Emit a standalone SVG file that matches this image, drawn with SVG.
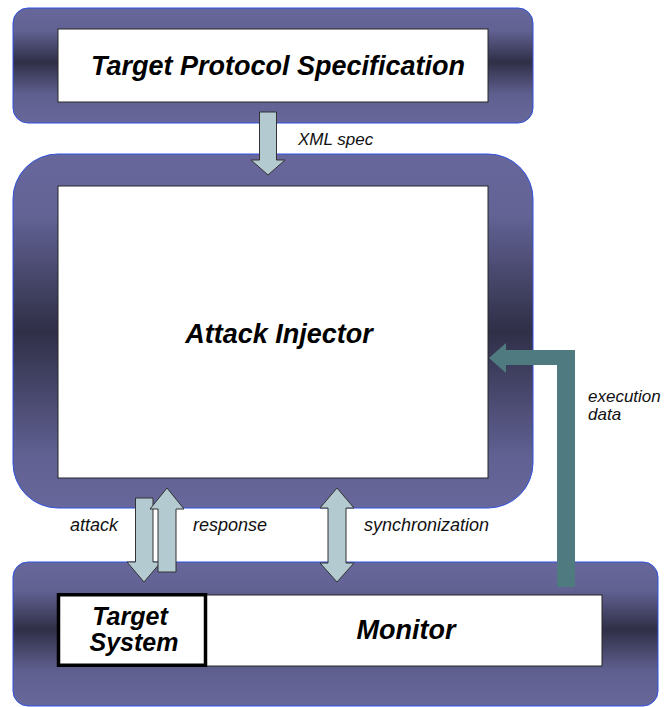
<svg xmlns="http://www.w3.org/2000/svg" width="668" height="707" viewBox="0 0 668 707">
<style>
.frame{stroke:#2f52e0;stroke-width:1}
.inner{fill:#ffffff;stroke:#262626;stroke-width:1}
.big{font-family:"Liberation Sans",Arial,sans-serif;font-weight:bold;font-style:italic;font-size:27px;fill:#000;text-anchor:middle}
.lbl{font-family:"Liberation Sans",Arial,sans-serif;font-style:italic;font-size:18px;fill:#111}
.arr{fill:#b3cbd0;stroke:#333;stroke-width:1;stroke-linejoin:miter}
</style>
<defs>
<linearGradient id="gTop" x1="0" y1="0" x2="0" y2="1">
<stop offset="0" stop-color="#67679b"/>
<stop offset="0.2" stop-color="#616192"/>
<stop offset="0.47" stop-color="#2f2f47"/>
<stop offset="0.75" stop-color="#5f5f8f"/>
<stop offset="1" stop-color="#67679b"/>
</linearGradient>
<linearGradient id="gMid" x1="0" y1="0" x2="0" y2="1">
<stop offset="0" stop-color="#67679b"/>
<stop offset="0.17" stop-color="#636396"/>
<stop offset="0.5" stop-color="#2f2f47"/>
<stop offset="0.85" stop-color="#606092"/>
<stop offset="1" stop-color="#67679b"/>
</linearGradient>
<linearGradient id="gBot" x1="0" y1="0" x2="0" y2="1">
<stop offset="0" stop-color="#67679b"/>
<stop offset="0.2" stop-color="#616192"/>
<stop offset="0.47" stop-color="#2f2f47"/>
<stop offset="0.75" stop-color="#5f5f8f"/>
<stop offset="1" stop-color="#67679b"/>
</linearGradient>
</defs>
<rect width="668" height="707" fill="#ffffff"/>

<g id="spec">
<rect class="frame" x="13" y="8" width="520" height="115" rx="15" fill="url(#gTop)"/>
<rect class="inner" x="58" y="29" width="430" height="73"/>
<text class="big" x="278" y="75">Target Protocol Specification</text>
</g>

<g id="injector">
<rect class="frame" x="13" y="154" width="520" height="354" rx="45" fill="url(#gMid)"/>
<rect class="inner" x="58" y="186" width="430" height="292"/>
<text class="big" x="279" y="343">Attack Injector</text>
</g>

<g id="monitor-frame">
<rect class="frame" x="13" y="562" width="645" height="144" rx="15" fill="url(#gBot)"/>
</g>

<g id="monitor">
<rect class="inner" x="206" y="595" width="396" height="71"/>
<text class="big" x="406" y="639">Monitor</text>
</g>

<g id="target-system">
<rect x="58.5" y="594.75" width="147" height="70.5" fill="#ffffff" stroke="#000" stroke-width="3.5"/>
<text class="big" style="font-size:25px" x="130" y="625">Target</text>
<text class="big" style="font-size:25px" x="134" y="651">System</text>
</g>

<g id="connectors">
<polygon class="arr" points="259.5,112 276.5,112 276.5,160 285,160 268,175 251,160 259.5,160"/>
<text class="lbl" style="font-size:17px" x="298" y="145">XML spec</text>
<polygon class="arr" points="135.5,498 153,498 153,562 161,562 144,582 127,562 135.5,562"/>
<polygon class="arr" points="158,572 176,572 176,509 184,509 167,488 150,509 158,509"/>
<text class="lbl" x="70" y="531">attack</text>
<text class="lbl" x="193" y="531">response</text>
<polygon class="arr" points="337,488 354,508 346,508 346,563 354,563 337,582 320,563 328,563 328,508 320,508"/>
<text class="lbl" x="364" y="531">synchronization</text>
<polygon fill="#4f7a80" points="575,350 575,587 557,587 557,365 506,365 506,373 489,358 506,343 506,350"/>
<text class="lbl" style="font-size:17px" x="588" y="402">execution</text>
<text class="lbl" style="font-size:17px" x="588" y="420">data</text>
</g>
</svg>
